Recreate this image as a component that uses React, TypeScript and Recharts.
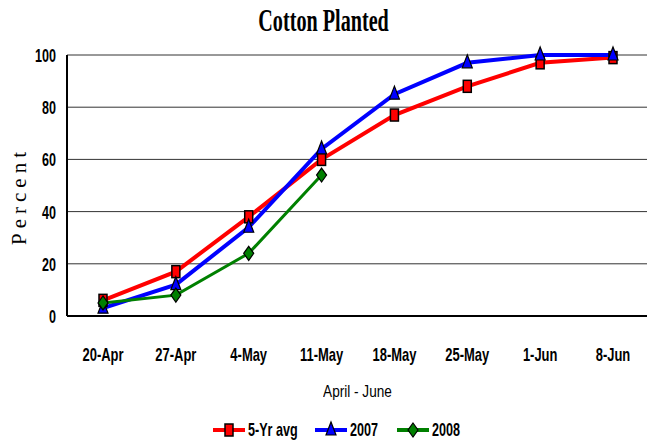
import React from 'react';
import { LineChart, Line, XAxis, YAxis, CartesianGrid, Legend } from 'recharts';

const weeks = ['20-Apr', '27-Apr', '4-May', '11-May', '18-May', '25-May', '1-Jun', '8-Jun'];
const avg5yr = [6, 17, 38, 60, 77, 88, 97, 99];
const y2007 = [3, 12, 34, 64, 85, 97, 100, 100];
const y2008 = [5, 8, 24, 54, null, null, null, null];
const yTicks = [0, 20, 40, 60, 80, 100];

const data = weeks.map((w, i) => ({
  week: w,
  avg: avg5yr[i],
  y2007: y2007[i],
  y2008: y2008[i],
}));

const SANS = "'Liberation Sans', Arial, sans-serif";
const SERIF = "'Liberation Serif', 'Times New Roman', serif";

const SquareDot = ({ cx, cy }: any) =>
  cx == null || cy == null ? null : (
    <rect x={cx - 4} y={cy - 6} width={8} height={12} fill="#ff0000" stroke="#000" strokeWidth={1.5} />
  );

const TriDot = ({ cx, cy }: any) =>
  cx == null || cy == null ? null : (
    <polygon points={`${cx},${cy - 8} ${cx + 5},${cy + 5} ${cx - 5},${cy + 5}`} fill="#0000ff" stroke="#000" strokeWidth={1.2} />
  );

const DiamondDot = ({ cx, cy }: any) =>
  cx == null || cy == null ? null : (
    <polygon points={`${cx},${cy - 7} ${cx + 5},${cy} ${cx},${cy + 7} ${cx - 5},${cy}`} fill="#008000" stroke="#000" strokeWidth={1.2} />
  );

// narrow bold labels, like Arial Narrow in the original
const XTick = ({ x, y, payload }: any) => (
  <g transform={`translate(${x},${y + 45})`}>
    <text transform="scale(0.72,1)" textAnchor="middle" fontFamily={SANS} fontWeight="bold" fontSize={18} fill="#000">
      {payload.value}
    </text>
  </g>
);

const YTick = ({ x, y, payload }: any) => (
  <g transform={`translate(${x - 11},${y + 7})`}>
    <text transform="scale(0.66,1)" textAnchor="end" fontFamily={SANS} fontWeight="bold" fontSize={19} fill="#000">
      {payload.value}
    </text>
  </g>
);

const legendItems = [
  { name: '5-Yr avg', color: '#ff0000', Dot: SquareDot },
  { name: '2007', color: '#0000ff', Dot: TriDot },
  { name: '2008', color: '#008000', Dot: DiamondDot },
];

// legend drawn as one svg row
const LegendContent = () => {
  let cursor = 213;
  const widths = [49, 29, 29];
  return (
    <svg width={647} height={24} style={{ display: 'block', overflow: 'visible' }}>
      {legendItems.map(({ name, color, Dot }, i) => {
        const x0 = cursor;
        cursor += 32 + 3 + widths[i] + 18;
        return (
          <g key={name}>
            <line x1={x0} y1={12} x2={x0 + 32} y2={12} stroke={color} strokeWidth={4} />
            <Dot cx={x0 + 16} cy={12} />
            <g transform={`translate(${x0 + 35},${18})`}>
              <text transform="scale(0.7,1)" fontFamily={SANS} fontWeight="bold" fontSize={18} fill="#000">
                {name}
              </text>
            </g>
          </g>
        );
      })}
    </svg>
  );
};

export default function App() {
  return (
    <div style={{ position: 'fixed', top: 0, left: 0, width: 647, height: 444, background: '#fff' }}>
      <div style={{ position: 'absolute', top: 2, left: 0, width: 647, textAlign: 'center', zIndex: 2 }}>
        <span
          style={{
            display: 'inline-block',
            fontFamily: SERIF,
            fontWeight: 'bold',
            fontSize: 32,
            transform: 'scaleX(0.63)',
          }}
        >
          Cotton Planted
        </span>
      </div>
      <div
        style={{
          position: 'absolute',
          left: 19,
          top: 196,
          transform: 'translate(-50%, -50%) rotate(-90deg)',
          fontFamily: SERIF,
          fontSize: 21,
          letterSpacing: 5,
          whiteSpace: 'nowrap',
          zIndex: 2,
        }}
      >
        Percent
      </div>
      <div style={{ position: 'absolute', top: 383, left: 34, width: 647, textAlign: 'center', zIndex: 2 }}>
        <span
          style={{
            display: 'inline-block',
            fontFamily: SANS,
            fontSize: 16,
            transform: 'scaleX(0.85)',
          }}
        >
          April - June
        </span>
      </div>
      <LineChart width={647} height={444} data={data} margin={{ top: 55, right: 0, bottom: 0, left: 0 }}>
        <CartesianGrid vertical={false} stroke="#333" strokeWidth={1} />
        <XAxis
          dataKey="week"
          height={128}
          tickSize={0}
          tickMargin={0}
          tick={<XTick />}
          axisLine={{ stroke: '#000', strokeWidth: 2 }}
          interval={0}
          padding={{ left: 36, right: 34 }}
        />
        <YAxis
          width={67}
          domain={[0, 100]}
          ticks={yTicks}
          tickSize={0}
          tickMargin={0}
          tick={<YTick />}
          axisLine={{ stroke: '#000', strokeWidth: 2 }}
          tickLine={false}
        />
        <Legend
          layout="horizontal"
          verticalAlign="middle"
          content={<LegendContent />}
          wrapperStyle={{ top: 418, left: 0, width: 647, height: 24 }}
        />
        <Line dataKey="avg" name="5-Yr avg" stroke="#ff0000" strokeWidth={4} dot={<SquareDot />} isAnimationActive={false} />
        <Line dataKey="y2007" name="2007" stroke="#0000ff" strokeWidth={4} dot={<TriDot />} isAnimationActive={false} />
        <Line dataKey="y2008" name="2008" stroke="#008000" strokeWidth={3} dot={<DiamondDot />} isAnimationActive={false} />
      </LineChart>
    </div>
  );
}
